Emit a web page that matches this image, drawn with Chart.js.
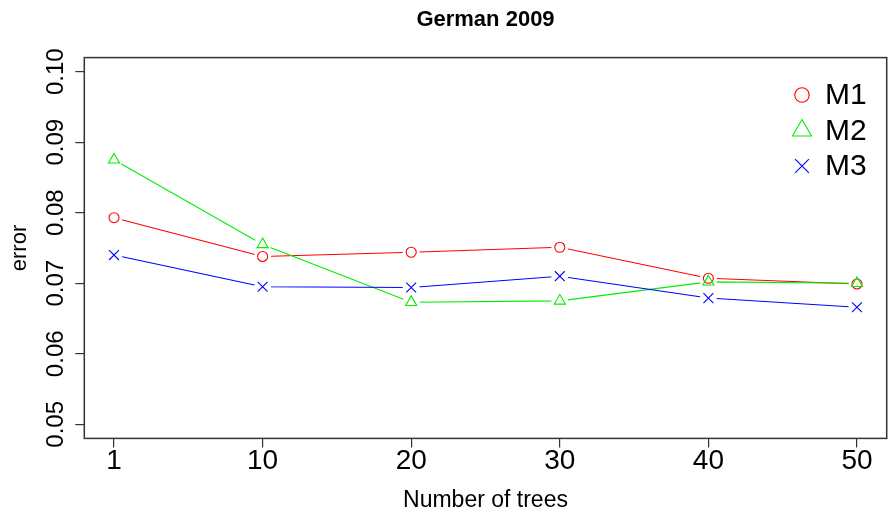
<!DOCTYPE html>
<html>
<head>
<meta charset="utf-8">
<script src="https://cdn.jsdelivr.net/npm/chart.js@4/dist/chart.umd.min.js"></script>
<style>
  html, body { margin: 0; padding: 0; background: #fff; }
  canvas { display: block; }
</style>
</head>
<body>
<canvas id="c" width="888" height="514" style="width:888px;height:514px"></canvas>
<script>
// Error of three models against the number of trees
const chartTitle = 'German 2009';
const xTitle = 'Number of trees';
const yTitle = 'error';
const categories = ['1', '10', '20', '30', '40', '50'];
const yTickValues = [0.05, 0.06, 0.07, 0.08, 0.09, 0.10];
const seriesNames = ['M1', 'M2', 'M3'];
const m1 = [0.0793, 0.0738, 0.0744, 0.0751, 0.0707, 0.0699];
const m2 = [0.0875, 0.0755, 0.0673, 0.0675, 0.0702, 0.0700];
const m3 = [0.0740, 0.0695, 0.0694, 0.0710, 0.0679, 0.0666];

const seriesValues = [m1, m2, m3];
const seriesColors = ['#ff0000', '#00ee00', '#0000ff'];
const seriesShapes = ['circle', 'triangle', 'crossRot'];
const markerRadius = { circle: 5, triangle: 6.4, crossRot: 7 };
const FONT = '"Liberation Sans", Arial, Helvetica, sans-serif';
const GAP = 8.5;

// Line segments stop short of each marker, like type="b" plots
const gapPlugin = {
  id: 'gapLines',
  beforeDatasetDraw(chart, args) {
    const ds = chart.data.datasets[args.index];
    if (!ds.gapLine) return;
    const ctx = chart.ctx;
    ctx.save();
    ctx.beginPath();
    ctx.rect(0, 0, chart.width, chart.height);
    args.meta.data.forEach(pt => {
      ctx.moveTo(pt.x + GAP, pt.y);
      ctx.arc(pt.x, pt.y, GAP, 0, Math.PI * 2, true);
    });
    ctx.clip('evenodd');
  },
  afterDatasetDraw(chart, args) {
    const ds = chart.data.datasets[args.index];
    if (!ds.gapLine) return;
    chart.ctx.restore();
  }
};

function drawSymbol(ctx, shape, x, y, s) {
  ctx.beginPath();
  if (shape === 'circle') {
    ctx.arc(x, y, s, 0, Math.PI * 2);
  } else if (shape === 'triangle') {
    const h = s * 1.5;
    const w = s * Math.sqrt(3);
    ctx.moveTo(x, y - h * 2 / 3);
    ctx.lineTo(x + w / 2, y + h / 3);
    ctx.lineTo(x - w / 2, y + h / 3);
    ctx.closePath();
  } else {
    const d = s * Math.SQRT1_2;
    ctx.moveTo(x - d, y - d); ctx.lineTo(x + d, y + d);
    ctx.moveTo(x + d, y - d); ctx.lineTo(x - d, y + d);
  }
  ctx.stroke();
}

// Frame, rotated y labels, titles and legend
const decorPlugin = {
  id: 'decor',
  afterDraw(chart) {
    const ctx = chart.ctx;
    const a = chart.chartArea;
    const yScale = chart.scales.y;
    ctx.save();
    ctx.strokeStyle = '#333';
    ctx.lineWidth = 1.5;
    ctx.strokeRect(a.left, a.top, a.right - a.left, a.bottom - a.top);

    ctx.fillStyle = '#000';
    ctx.font = '24px ' + FONT;
    ctx.textAlign = 'center';
    ctx.textBaseline = 'alphabetic';
    yTickValues.forEach(v => {
      const py = yScale.getPixelForValue(v);
      ctx.save();
      ctx.translate(63, py);
      ctx.rotate(-Math.PI / 2);
      ctx.fillText(v.toFixed(2), 0, 0);
      ctx.restore();
    });

    ctx.font = '22px ' + FONT;
    ctx.save();
    ctx.translate(26, (a.top + a.bottom) / 2);
    ctx.rotate(-Math.PI / 2);
    ctx.fillText(yTitle, 0, 0);
    ctx.restore();

    ctx.font = '23px ' + FONT;
    ctx.fillText(xTitle, (a.left + a.right) / 2, 507);

    ctx.font = 'bold 22px ' + FONT;
    ctx.fillText(chartTitle, (a.left + a.right) / 2, 26);

    ctx.textAlign = 'left';
    ctx.textBaseline = 'middle';
    ctx.font = '30px ' + FONT;
    const legendSize = { circle: 7.2, triangle: 11, crossRot: 9.8 };
    seriesNames.forEach((name, i) => {
      const ly = 95 + i * 35.5;
      ctx.strokeStyle = seriesColors[i];
      ctx.lineWidth = 1.1;
      drawSymbol(ctx, seriesShapes[i], 802, ly, legendSize[seriesShapes[i]]);
      ctx.fillStyle = '#000';
      ctx.fillText(name, 825, ly + 1);
    });
    ctx.restore();
  }
};

const datasets = [];
seriesNames.forEach((name, i) => {
  const pts = seriesValues[i].map((v, j) => ({ x: j + 1, y: v }));
  datasets.push({
    label: name + ' line',
    data: pts,
    gapLine: true,
    borderColor: seriesColors[i],
    borderWidth: 1.1,
    pointRadius: 0,
    fill: false,
    tension: 0,
    order: 6 - i * 2
  });
  datasets.push({
    label: name,
    data: pts,
    showLine: false,
    pointStyle: seriesShapes[i],
    pointRadius: markerRadius[seriesShapes[i]],
    pointBorderColor: seriesColors[i],
    pointBackgroundColor: 'rgba(0,0,0,0)',
    pointBorderWidth: 1.1,
    order: 5 - i * 2
  });
});

new Chart(document.getElementById('c'), {
  type: 'line',
  data: { datasets },
  options: {
    responsive: false,
    animation: false,
    devicePixelRatio: 1,
    layout: { autoPadding: false, padding: { top: 57.6, right: 1.3, left: 0, bottom: 0 } },
    plugins: {
      legend: { display: false },
      title: { display: false },
      tooltip: { enabled: false }
    },
    scales: {
      x: {
        type: 'linear',
        min: 0.8,
        max: 6.2,
        afterBuildTicks: s => { s.ticks = categories.map((c, i) => ({ value: i + 1 })); },
        afterFit: s => { s.height = 514 - 438.4; s.paddingLeft = 0; s.paddingRight = 0; },
        ticks: {
          autoSkip: false,
          maxRotation: 0,
          padding: 0,
          color: '#000',
          font: { family: FONT, size: 28, lineHeight: 1 },
          callback: (v, i) => categories[i]
        },
        grid: { drawOnChartArea: false, drawTicks: true, tickLength: 9, color: '#333', lineWidth: 1.2 },
        border: { display: false }
      },
      y: {
        type: 'linear',
        min: 0.048,
        max: 0.102,
        afterBuildTicks: s => { s.ticks = yTickValues.map(v => ({ value: v })); },
        afterFit: s => { s.width = 84.3; s.paddingTop = 0; s.paddingBottom = 0; },
        ticks: { display: false },
        grid: { drawOnChartArea: false, drawTicks: true, tickLength: 9, color: '#333', lineWidth: 1.2 },
        border: { display: false }
      }
    }
  },
  plugins: [gapPlugin, decorPlugin]
});
</script>
</body>
</html>
